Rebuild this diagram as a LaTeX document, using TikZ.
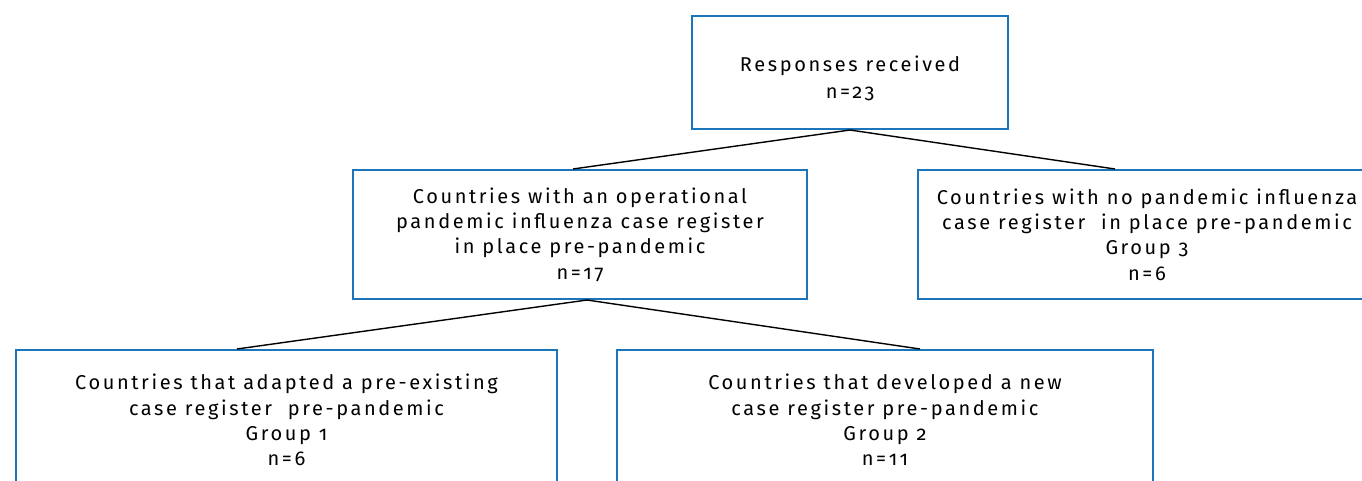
\documentclass[tikz,border=0pt]{standalone}
\usepackage{fontspec}
\setmainfont[Numbers=OldStyle,LetterSpace=13]{Fira Sans}
\definecolor{boxblue}{HTML}{1B75BB}
\begin{document}
\begin{tikzpicture}[x=1pt,y=-1pt,
  box/.style={draw=boxblue,line width=2pt,rectangle,align=center,inner sep=0pt,
    font=\fontsize{20}{25.3}\selectfont},
  conn/.style={draw=black,line width=1.4pt}]
\useasboundingbox (0,0) rectangle (1362,480);
\node[box,minimum width=316,minimum height=113] (top) at (850,72.5)
  {\rule{0pt}{28pt}Responses received\\[1.5pt]n=23};
\node[box,minimum width=454,minimum height=129] (ml) at (580,234.5)
  {Countries with an operational\\pandemic influenza case register\\in place pre-pandemic\\n=17};
\node[box,minimum width=458,minimum height=129] (mr) at (1147,234.5)
  {Countries with no pandemic influenza\\case register \ in place pre-pandemic\\Group 3\\n=6};
\node[box,minimum width=541,minimum height=140] (bl) at (286.5,420)
  {Countries that adapted a pre-existing\\case register \ pre-pandemic\\Group 1\\n=6};
\node[box,minimum width=536,minimum height=140] (br) at (885,420)
  {Countries that developed a new\\case register pre-pandemic\\Group 2\\n=11};
\draw[conn] ([xshift=-7]ml.north) -- (top.south) -- ([xshift=-32]mr.north);
\draw[conn] ([xshift=-49.5]bl.north) -- ([xshift=7]ml.south) -- ([xshift=35]br.north);
\end{tikzpicture}
\end{document}
